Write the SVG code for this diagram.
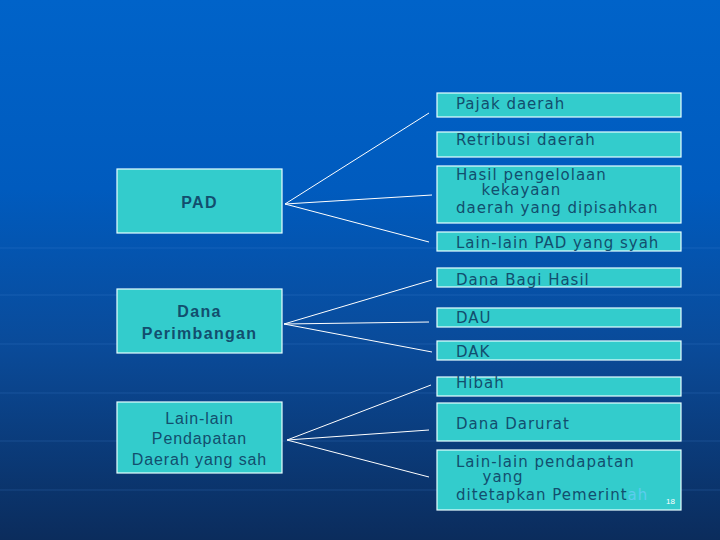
<svg xmlns="http://www.w3.org/2000/svg" width="720" height="540" viewBox="0 0 720 540">
<defs>
<linearGradient id="bg" x1="0" y1="0" x2="0" y2="1">
<stop offset="0" stop-color="#0063C9"/>
<stop offset="0.35" stop-color="#005BBE"/>
<stop offset="0.65" stop-color="#0A4A98"/>
<stop offset="1" stop-color="#0B2C5C"/>
</linearGradient>
<style>
.box{fill:#33CCCC;stroke:#E6FFFF;stroke-width:1.2}
.t{font-family:"DejaVu Sans",Verdana,sans-serif;font-size:15px;letter-spacing:1px;fill:#124E6E}
.l{font-family:"Liberation Sans",Arial,sans-serif;font-size:16px;fill:#124E6E;text-anchor:middle}
.b{font-weight:bold;letter-spacing:1.3px}
.n{letter-spacing:0.9px}
.c line{stroke:#FFFFFF;stroke-width:1}
.g line{stroke:#4A8AD8;stroke-opacity:0.25;stroke-width:1}
</style>
</defs>
<rect x="0" y="0" width="720" height="540" fill="url(#bg)"/>
<g class="g">
<line x1="0" y1="248" x2="720" y2="248"/>
<line x1="0" y1="295" x2="720" y2="295"/>
<line x1="0" y1="344" x2="720" y2="344"/>
<line x1="0" y1="393" x2="720" y2="393"/>
<line x1="0" y1="441" x2="720" y2="441"/>
<line x1="0" y1="490" x2="720" y2="490"/>
</g>
<g class="c" id="connectors">
<line x1="285" y1="204" x2="429" y2="113"/>
<line x1="285" y1="204" x2="432" y2="195"/>
<line x1="285" y1="204" x2="429" y2="242"/>
<line x1="284" y1="324" x2="432" y2="280"/>
<line x1="284" y1="324" x2="429" y2="322"/>
<line x1="284" y1="324" x2="432" y2="352"/>
<line x1="287" y1="440" x2="431" y2="385"/>
<line x1="287" y1="440" x2="429" y2="430"/>
<line x1="287" y1="440" x2="429" y2="477"/>
</g>
<g id="pad">
<rect class="box" x="117" y="169" width="165" height="64"/>
<text class="l b" x="199.5" y="208">PAD</text>
</g>
<g id="dana-perimbangan">
<rect class="box" x="117" y="289" width="165" height="64"/>
<text class="l b" x="199.5" y="317">Dana</text>
<text class="l b" x="199.5" y="338.5">Perimbangan</text>
</g>
<g id="lain-lain-pendapatan-daerah">
<rect class="box" x="117" y="402" width="165" height="71"/>
<text class="l n" x="199.5" y="423.5">Lain-lain</text>
<text class="l n" x="199.5" y="444">Pendapatan</text>
<text class="l n" x="199.5" y="465">Daerah yang sah</text>
</g>
<g id="pajak-daerah">
<rect class="box" x="437" y="93" width="244" height="24"/>
<text class="t" x="456" y="109">Pajak daerah</text>
</g>
<g id="retribusi-daerah">
<rect class="box" x="437" y="132" width="244" height="25"/>
<text class="t" x="456" y="145">Retribusi daerah</text>
</g>
<g id="hasil-pengelolaan">
<rect class="box" x="437" y="166" width="244" height="57"/>
<text class="t" x="456" y="180">Hasil pengelolaan</text>
<text class="t" x="481.5" y="194.5">kekayaan</text>
<text class="t" x="456" y="212.5">daerah yang dipisahkan</text>
</g>
<g id="lain-lain-pad">
<rect class="box" x="437" y="232" width="244" height="19"/>
<text class="t" x="456" y="248">Lain-lain PAD yang syah</text>
</g>
<g id="dana-bagi-hasil">
<rect class="box" x="437" y="268" width="244" height="19"/>
<text class="t" x="456" y="285">Dana Bagi Hasil</text>
</g>
<g id="dau">
<rect class="box" x="437" y="308" width="244" height="19"/>
<text class="t" x="456" y="323">DAU</text>
</g>
<g id="dak">
<rect class="box" x="437" y="341" width="244" height="19"/>
<text class="t" x="456" y="357">DAK</text>
</g>
<g id="hibah">
<rect class="box" x="437" y="377" width="244" height="19"/>
<text class="t" x="456" y="388">Hibah</text>
</g>
<g id="dana-darurat">
<rect class="box" x="437" y="403" width="244" height="38"/>
<text class="t" x="456" y="429">Dana Darurat</text>
</g>
<g id="lain-lain-pendapatan">
<rect class="box" x="437" y="450" width="244" height="60"/>
<text class="t" x="456" y="467">Lain-lain pendapatan</text>
<text class="t" x="482.5" y="482">yang</text>
<text class="t" x="456" y="499.5">ditetapkan Pemerint<tspan fill="#5CCDEE">ah</tspan></text>
<text x="666" y="504" font-family="Liberation Sans, Arial, sans-serif" font-size="8" fill="#FFFFFF">18</text>
</g>
</svg>
